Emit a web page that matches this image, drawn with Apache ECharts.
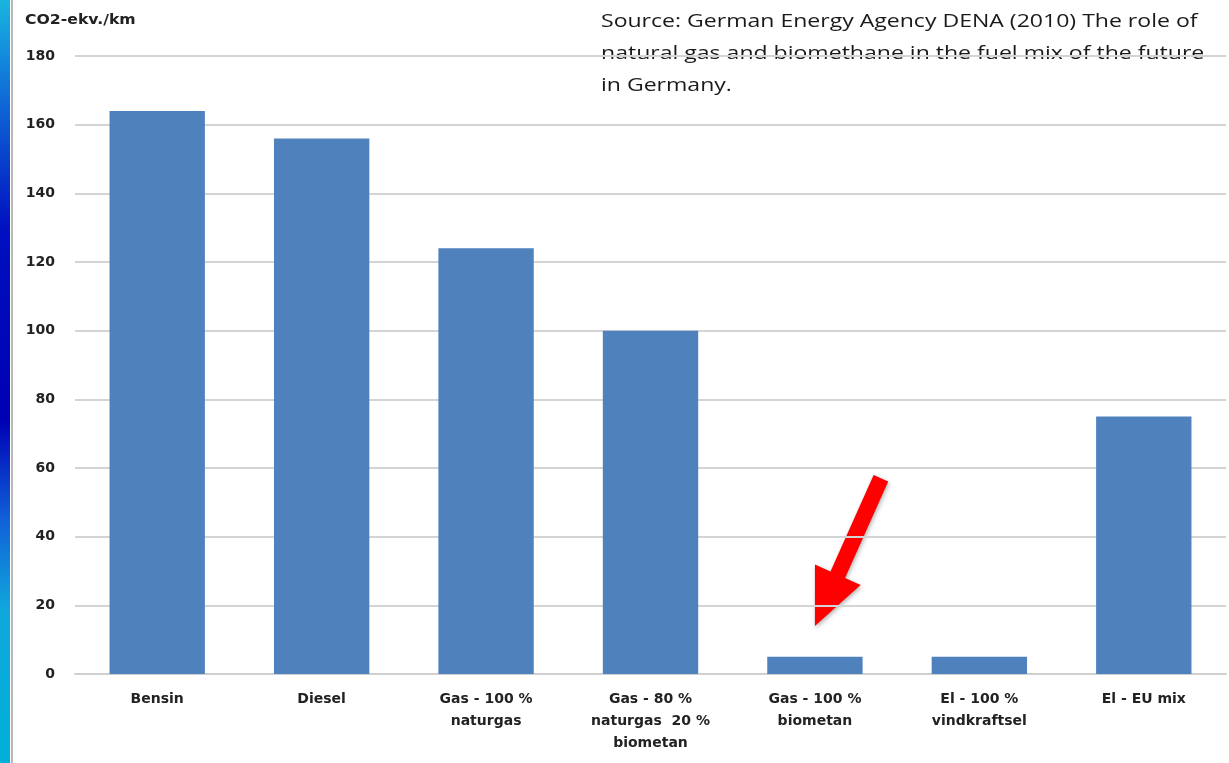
<!DOCTYPE html>
<html>
<head>
<meta charset="utf-8">
<script src="https://cdn.jsdelivr.net/npm/echarts@6/dist/echarts.min.js"></script>
<style>
  html, body { margin: 0; padding: 0; background: #fff; }
  #chart { width: 1229px; height: 763px; }
</style>
</head>
<body>
<div id="chart"></div>
<script>
// data
var categories = [
  'Bensin',
  'Diesel',
  'Gas - 100 %\nnaturgas',
  'Gas - 80 %\nnaturgas  20 %\nbiometan',
  'Gas - 100 %\nbiometan',
  'El - 100 %\nvindkraftsel',
  'El - EU mix'
];
var emissions = [164, 156, 124, 100, 5, 5, 75];
var yTicks = { min: 0, max: 180, step: 20 };
var unitLabel = 'CO2-ekv./km';
var sourceText = 'Source: German Energy Agency DENA (2010) The role of\nnatural gas and biomethane in the fuel mix of the future\nin Germany.';

var labelFont = '"DejaVu Sans", Verdana, sans-serif';

var chart = echarts.init(document.getElementById('chart'));

var option = {
  backgroundColor: '#fff',
  animation: false,
  grid: { left: 75, right: 3, top: 56, bottom: 89 },
  xAxis: {
    type: 'category',
    data: categories,
    axisLine: { show: true, lineStyle: { color: '#d0d0d0', width: 2 } },
    axisTick: { show: false },
    axisLabel: {
      interval: 0,
      margin: 14,
      color: '#222',
      fontFamily: labelFont,
      fontWeight: 'bold',
      fontSize: 14,
      lineHeight: 22
    }
  },
  yAxis: {
    type: 'value',
    min: yTicks.min,
    max: yTicks.max,
    interval: yTicks.step,
    axisLine: { show: false },
    axisTick: { show: false },
    splitLine: { lineStyle: { color: '#d4d4d4', width: 2 } },
    axisLabel: {
      margin: 20,
      color: '#222',
      fontFamily: labelFont,
      fontWeight: 'bold',
      fontSize: 14
    }
  },
  series: [{
    type: 'bar',
    data: emissions,
    barWidth: '58%',
    itemStyle: { color: '#4f81bd' }
  }],
  graphic: [
    {
      type: 'rect',
      shape: { x: 0, y: 0, width: 10, height: 763 },
      style: {
        fill: new echarts.graphic.LinearGradient(0, 0, 0, 1, [
          { offset: 0, color: '#19b5e0' },
          { offset: 0.12, color: '#1070d8' },
          { offset: 0.3, color: '#0010c0' },
          { offset: 0.55, color: '#0000b4' },
          { offset: 0.68, color: '#1060d8' },
          { offset: 0.8, color: '#10a8dc' },
          { offset: 1, color: '#00b0d8' }
        ])
      }
    },
    {
      type: 'rect',
      shape: { x: 11, y: 0, width: 2, height: 763 },
      style: { fill: '#b8b8b8' }
    },
    {
      type: 'text',
      x: 25,
      y: 13,
      scaleX: 1.12,
      style: {
        text: unitLabel,
        fill: '#222',
        font: 'bold 14px ' + labelFont
      }
    },
    {
      type: 'text',
      x: 601,
      y: 6,
      scaleX: 1.28,
      style: {
        text: sourceText,
        fill: '#1a1a1a',
        font: '18px "Open Sans", "Noto Sans", sans-serif',
        lineHeight: 32
      }
    }
  ]
};

chart.setOption(option);

// red arrow pointing at the biomethane bar, placed via the axes
var tip = chart.convertToPixel({ seriesIndex: 0 }, [4, 14]);
var tail = chart.convertToPixel({ seriesIndex: 0 }, [4, 57]);
tail[0] += 66;
var dx = tail[0] - tip[0], dy = tail[1] - tip[1];
var len = Math.sqrt(dx * dx + dy * dy);
var ux = dx / len, uy = dy / len;     // along arrow toward tail
var px = -uy, py = ux;                 // perpendicular
var headLen = 56, headHalf = 25, shaftHalf = 8;
var hb = [tip[0] + ux * headLen, tip[1] + uy * headLen];
var pts = [
  tip,
  [hb[0] + px * headHalf, hb[1] + py * headHalf],
  [hb[0] + px * shaftHalf, hb[1] + py * shaftHalf],
  [tail[0] + px * shaftHalf, tail[1] + py * shaftHalf],
  [tail[0] - px * shaftHalf, tail[1] - py * shaftHalf],
  [hb[0] - px * shaftHalf, hb[1] - py * shaftHalf],
  [hb[0] - px * headHalf, hb[1] - py * headHalf]
];
chart.setOption({
  graphic: option.graphic.concat([{
    type: 'polygon',
    shape: { points: pts },
    style: { fill: '#ff0000', shadowBlur: 4, shadowColor: 'rgba(0,0,0,0.3)', shadowOffsetX: 1, shadowOffsetY: 2 }
  }])
});
</script>
</body>
</html>
